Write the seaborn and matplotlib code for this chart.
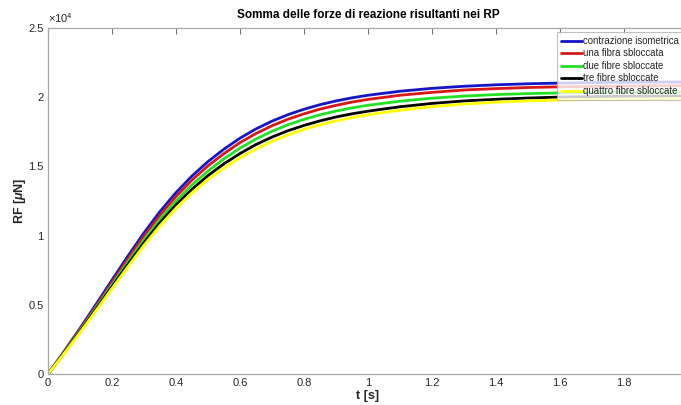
import numpy as np
import pandas as pd
import matplotlib
matplotlib.use("Agg")
import matplotlib.pyplot as plt
from matplotlib.ticker import FuncFormatter, MultipleLocator, FixedLocator
import seaborn as sns

# time samples [s]
t = [0.0, 0.05, 0.1, 0.15, 0.2, 0.25, 0.3, 0.35, 0.4, 0.45, 0.5,
     0.55, 0.6, 0.65, 0.7, 0.75, 0.8, 0.85, 0.9, 0.95, 1.0,
     1.1, 1.2, 1.3, 1.4, 1.5, 1.6, 1.7, 1.8, 1.9, 2.0]

# summed reaction forces at the RP [uN]
contrazione_isometrica = [0, 1620, 3300, 5030, 6790, 8530, 10200, 11740, 13110, 14310, 15350,
                          16250, 17040, 17710, 18270, 18740, 19130, 19460, 19730, 19955, 20140,
                          20430, 20640, 20790, 20895, 20970, 21020, 21055, 21078, 21093, 21103]
una_fibra = [0, 1580, 3220, 4900, 6620, 8330, 9970, 11480, 12830, 14020, 15040,
             15930, 16720, 17380, 17940, 18410, 18800, 19140, 19410, 19650, 19840,
             20140, 20350, 20520, 20620, 20700, 20750, 20780, 20800, 20820, 20830]
due_fibre = [0, 1540, 3140, 4780, 6450, 8110, 9710, 11190, 12510, 13670, 14670,
             15550, 16320, 16980, 17540, 18010, 18400, 18730, 19000, 19230, 19420,
             19710, 19930, 20080, 20190, 20260, 20310, 20340, 20360, 20380, 20390]
tre_fibre = [0, 1510, 3070, 4680, 6310, 7930, 9490, 10930, 12220, 13350, 14340,
             15190, 15930, 16580, 17120, 17580, 17960, 18290, 18570, 18800, 18990,
             19310, 19550, 19730, 19850, 19940, 20010, 20040, 20070, 20080, 20090]
quattro_fibre = [0, 1470, 3000, 4580, 6180, 7760, 9300, 10720, 11980, 13090, 14060,
                 14890, 15630, 16270, 16810, 17280, 17680, 18010, 18290, 18530, 18730,
                 19060, 19320, 19500, 19640, 19730, 19800, 19830, 19860, 19870, 19880]

labels = ["contrazione isometrica", "una fibra sbloccata", "due fibre sbloccate",
          "tre fibre sbloccate", "quattro fibre sbloccate"]
series = [contrazione_isometrica, una_fibra, due_fibre, tre_fibre, quattro_fibre]
colors = ["#1414C8", "#D81818", "#22E022", "#000000", "#FFFF00"]

x_ticks = [0, 0.2, 0.4, 0.6, 0.8, 1.0, 1.2, 1.4, 1.6, 1.8]

df = pd.concat(
    [pd.DataFrame({"t": t, "RF": vals, "serie": lab}) for lab, vals in zip(labels, series)],
    ignore_index=True,
)

sns.set_style("white")
plt.rcParams["font.family"] = ["Liberation Sans", "DejaVu Sans"]
plt.rcParams["mathtext.fontset"] = "custom"
plt.rcParams["mathtext.rm"] = "Liberation Sans"
plt.rcParams["mathtext.it"] = "Liberation Sans:italic:bold"
plt.rcParams["mathtext.bf"] = "Liberation Sans:bold"

fig = plt.figure(figsize=(6.81, 4.05), dpi=100)
ax = fig.add_axes([48 / 681, 31 / 405, 640 / 681, 346 / 405])

sns.lineplot(data=df, x="t", y="RF", hue="serie", palette=dict(zip(labels, colors)),
             linewidth=2.0, ax=ax, legend=False, sort=False)
for ln in ax.get_lines():
    ln.set_solid_joinstyle("round")

ax.set_xlim(0, 2.0)
ax.set_ylim(0, 25000)
ax.xaxis.set_major_locator(FixedLocator(x_ticks))
ax.yaxis.set_major_locator(MultipleLocator(5000))
ax.xaxis.set_major_formatter(FuncFormatter(lambda v, p: f"{v:g}"))
ax.yaxis.set_major_formatter(FuncFormatter(lambda v, p: f"{v / 1e4:g}"))

grey = "#262626"
axis_grey = "#A8A8A8"
for s in ax.spines.values():
    s.set_color(axis_grey)
    s.set_linewidth(0.9)
ax.tick_params(direction="in", length=4, width=0.8, color="#707070",
               labelsize=8, labelcolor=grey, top=True, right=True, pad=3)

ax.text(0.0, 1.01, r"$\times 10^{4}$", transform=ax.transAxes, ha="left", va="bottom",
        fontsize=8, color=grey)

ax.set_title("Somma delle forze di reazione risultanti nei RP", fontsize=8.5,
             fontweight="bold", color="black", pad=7.5)
ax.set_xlabel("t [s]", fontsize=9, fontweight="bold", color=grey, labelpad=1)
ax.set_ylabel(r"RF [$\mathit{\mu}$N]", fontsize=9, fontweight="bold", color=grey, labelpad=0.5)

handles = [plt.Line2D([], [], color=c, linewidth=2.0) for c in colors]
leg = ax.legend(handles, labels, loc="upper left", bbox_to_anchor=((557 - 48) / 640, 0.988),
                fontsize=6.9, frameon=True, fancybox=False, handlelength=2.2, handletextpad=0.1,
                labelspacing=0.26, borderpad=0.4, borderaxespad=0)
leg.get_frame().set_edgecolor("#B0B0B0")
leg.get_frame().set_linewidth(0.8)

fig.savefig("out.png", dpi=100, facecolor="white")
